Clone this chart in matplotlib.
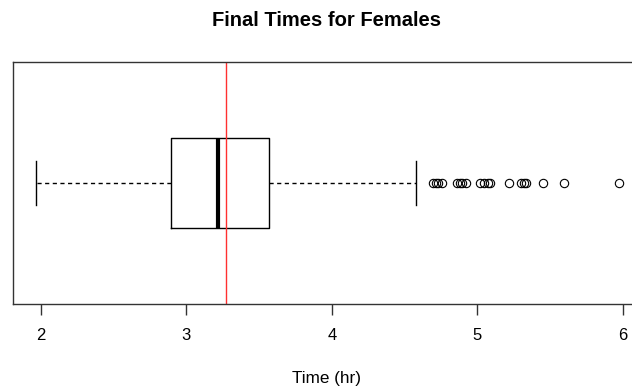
import matplotlib
matplotlib.use("Agg")
import matplotlib.pyplot as plt

plt.rcParams['font.family'] = ['Liberation Sans', 'DejaVu Sans']

# box statistics (hours)
whisker_low = 1.97
q1 = 2.896
median = 3.22
q3 = 3.57
whisker_high = 4.58
mean_time = 3.27
outliers = [4.694, 4.712, 4.728, 4.758,
            4.861, 4.882, 4.895, 4.920,
            5.018, 5.045, 5.070, 5.087,
            5.216, 5.300, 5.320, 5.334,
            5.45, 5.594, 5.973]
tick_values = [2, 3, 4, 5, 6]

W, H = 632, 390
fig = plt.figure(figsize=(W / 100, H / 100), dpi=100)
# axes box runs a bit past the right edge, like the cropped original
left, right, top, bottom = 13, 642, 62, 304
ax = fig.add_axes([left / W, 1 - bottom / H, (right - left) / W, (bottom - top) / H])

stats = [dict(whislo=whisker_low, q1=q1, med=median, q3=q3,
              whishi=whisker_high, fliers=outliers)]
ax.bxp(stats, positions=[1], widths=0.4, vert=False, showfliers=True,
       boxprops=dict(color='black', linewidth=1.0),
       medianprops=dict(color='black', linewidth=3.0, solid_capstyle='butt'),
       whiskerprops=dict(color='black', linewidth=1.0, linestyle=(0, (3, 2.5))),
       capprops=dict(color='black', linewidth=1.0),
       capwidths=0.2,
       flierprops=dict(marker='o', markerfacecolor='none', markeredgecolor='black',
                       markersize=6, markeredgewidth=0.8))

ax.axvline(mean_time, color='#ff3030', linewidth=1.0)

ax.set_xlim(1.81, 6.13)
ax.set_ylim(0.46, 1.54)
ax.set_yticks([])
ax.set_xticks(tick_values)
ax.set_xticklabels([str(v) for v in tick_values], fontsize=12)
ax.tick_params(axis='x', direction='out', length=8, width=1.0, pad=9, color='#333333')
for s in ax.spines.values():
    s.set_color('#333333')
    s.set_linewidth(1.0)

fig.text(326 / W, 1 - 20 / H, "Final Times for Females", ha='center', va='center',
         fontsize=14.5, fontweight='bold')
fig.text(326 / W, 1 - 379 / H, "Time (hr)", ha='center', va='center', fontsize=12.3)

fig.savefig("out.png", dpi=100)
